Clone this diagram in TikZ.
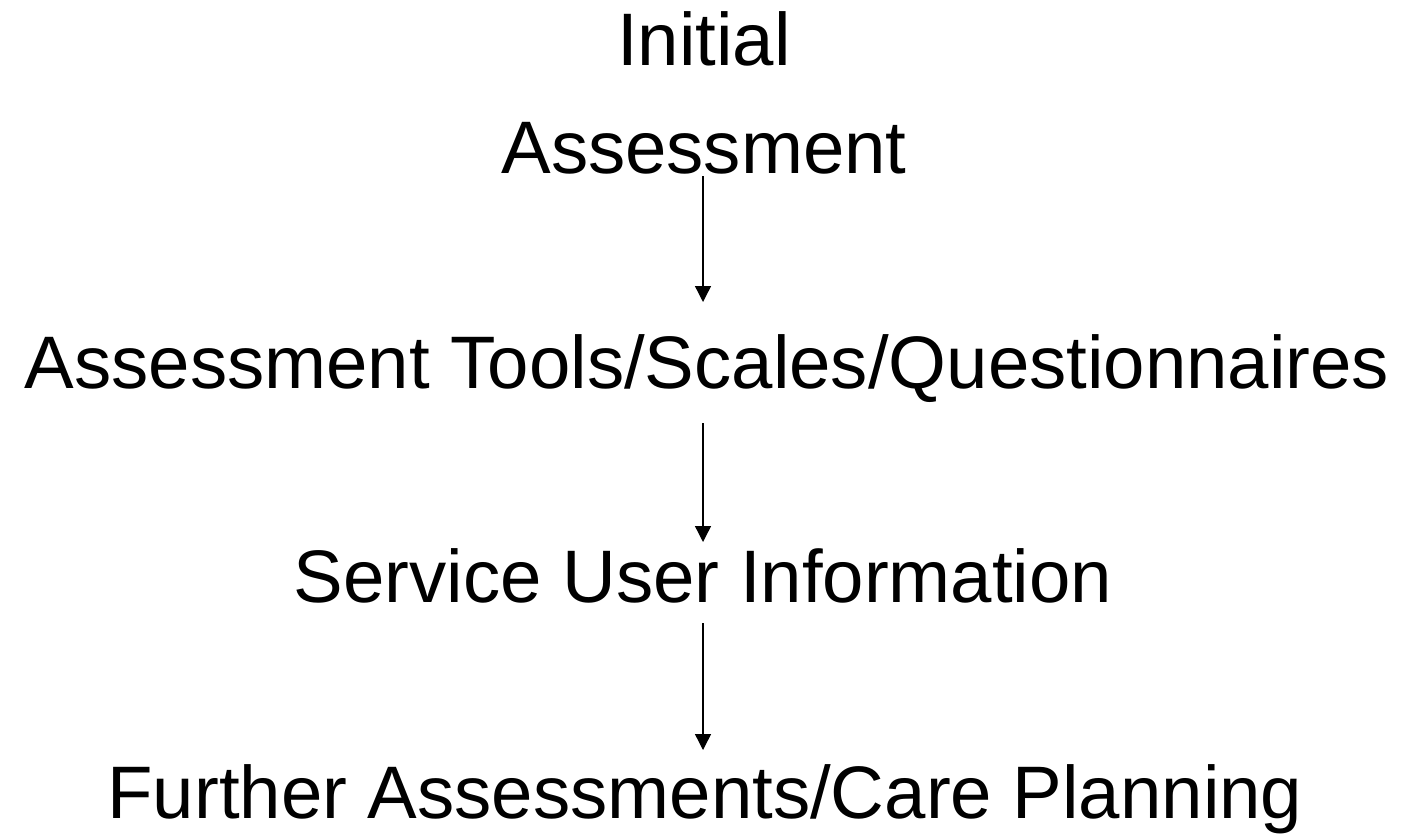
\documentclass[tikz,border=0pt]{standalone}
\usepackage{fontspec}
\setmainfont{Liberation Sans}
\usetikzlibrary{arrows.meta}
\begin{document}
\begin{tikzpicture}[x=0.75pt, y=-0.75pt, every node/.style={inner sep=0pt, anchor=base, font=\fontsize{55.8}{60}\selectfont}, flow/.style={-{Triangle[width=12pt,length=12pt]}, line width=1pt}]
		\useasboundingbox (0,0) rectangle (1401,833);
		\node (initial)     at (704,65)  {Initial};
		\node (assessment)  at (704,173) {Assessment};
		\node (tools)       at (707,388) {Assessment Tools/Scales/Questionnaires};
		\node (service)     at (703,602) {Service User Information};
		\node (further)     at (705,818) {Further Assessments/Care Planning};
		
		\coordinate (tip1) at (703,302);
		\coordinate (tip2) at (703,542);
		\coordinate (tip3) at (703,750);
		
		\draw[flow, shorten <=1.5pt] (assessment.south -| tip1) -- (tip1);
		\draw[flow, shorten <=15.5pt] (tools.south -| tip2) -- (tip2);
		\draw[flow, shorten <=15pt] (service.south -| tip3) -- (tip3);
	\end{tikzpicture}
\end{document}
